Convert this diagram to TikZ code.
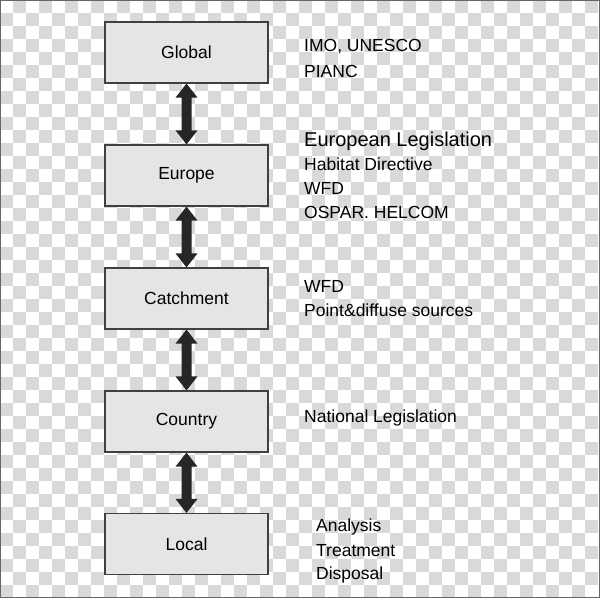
\documentclass[tikz,border=0pt]{standalone}
\usepackage{fontspec}
\setmainfont{Liberation Sans}
\usetikzlibrary{calc}
\newcommand{\dblarrow}[2]{%
  \fill[arrowc] (#1.south) -- ($(#1.south)+(11,14)$) -- ($(#1.south)+(5,14)$) -- ($(#2.north)+(5,-14)$) -- ($(#2.north)+(11,-14)$) -- (#2.north) -- ($(#2.north)+(-11,-14)$) -- ($(#2.north)+(-5,-14)$) -- ($(#1.south)+(-5,14)$) -- ($(#1.south)+(-11,14)$) -- cycle;}
\begin{document}
\begin{tikzpicture}[x=1pt,y=-1pt,
  box/.style={draw=black!75,line width=1.2pt,fill=black!10,minimum width=163pt,minimum height=61pt,inner sep=0pt,font=\fontsize{17.5}{19}\selectfont},
  lbl/.style={anchor=west,inner sep=0pt,font=\fontsize{17.5}{19}\selectfont},
  arrowc/.style={fill=black!85}]
\useasboundingbox (0,0) rectangle (600,598);
\fill[white] (0,0) rectangle (600,598);
\foreach \i in {0,...,45}{\foreach \j in {0,...,45}{%
  \pgfmathparse{int(mod(\i+\j,2))}%
  \ifnum\pgfmathresult=1 \fill[black!15] (\i*13,\j*13) rectangle ++(13,13);\fi}}
\draw[black!60] (0.5,0.5) rectangle (599.5,597.5);
\node[box] (g) at (186.5,52.5) {Global};
\node[box] (e) at (186.5,175.5) {Europe};
\node[box] (c) at (186.5,298.5) {Catchment};
\node[box] (n) at (186.5,421.5) {Country};
\node[box] (l) at (186.5,544) {Local};
\dblarrow{g}{e}
\dblarrow{e}{c}
\dblarrow{c}{n}
\dblarrow{n}{l}
\node[lbl] (t1) at (304,47) {IMO, UNESCO};
\node[lbl] (t2) at (304,71) {PIANC};
\node[lbl,font=\fontsize{20}{22}\selectfont] (t3) at (304,141) {European Legislation};
\node[lbl] (t4) at (304,164) {Habitat Directive};
\node[lbl] (t5) at (304,188) {WFD};
\node[lbl] (t6) at (304,212) {OSPAR. HELCOM};
\node[lbl] (t7) at (304,286) {WFD};
\node[lbl] (t8) at (304,310) {Point\&diffuse sources};
\node[lbl] (t9) at (304,418) {National Legislation};
\node[lbl] (t10) at (316,527) {Analysis};
\node[lbl] (t11) at (316,551) {Treatment};
\node[lbl] (t12) at (316,575) {Disposal};
\end{tikzpicture}
\end{document}
